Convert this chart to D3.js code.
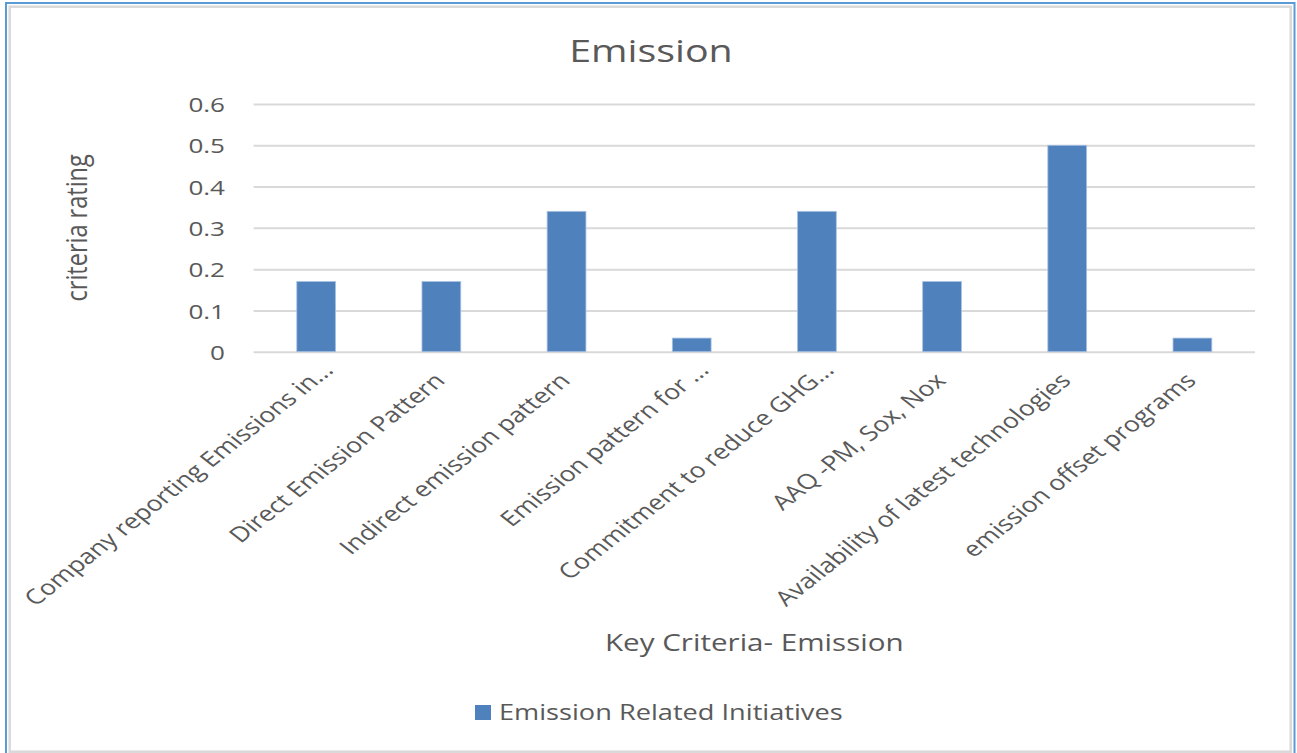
<!DOCTYPE html>
<html>
<head>
<meta charset="utf-8">
<script src="https://cdn.jsdelivr.net/npm/d3@7/dist/d3.min.js"></script>
<style>
  html, body { margin: 0; padding: 0; background: #fff; }
  svg { display: block; }
  text { font-family: "Open Sans", "Noto Sans", sans-serif; fill: #595959; }
</style>
</head>
<body>
<script>
// ---- data ----
const categories = [
  "Company reporting Emissions in...",
  "Direct Emission Pattern",
  "Indirect emission pattern",
  "Emission pattern for ...",
  "Commitment to reduce GHG...",
  "AAQ -PM, Sox, Nox",
  "Availability of latest technologies",
  "emission offset programs"
];
const values = [0.17, 0.17, 0.34, 0.033, 0.34, 0.17, 0.5, 0.033];
const yTicks = [0, 0.1, 0.2, 0.3, 0.4, 0.5, 0.6];
const seriesName = "Emission Related Initiatives";
const chartTitle = "Emission";
const xTitle = "Key Criteria- Emission";
const yTitle = "criteria rating";

// ---- layout ----
const W = 1297, H = 753;
const SX = 1.27; // horizontal text stretch seen in the reference
const plot = { left: 253.6, right: 1255, top: 104, bottom: 351.7 };
const barColor = "#4f81bd";
const gridColor = "#d9d9d9";

const svg = d3.select("body").append("svg").attr("width", W).attr("height", H);

// frames
svg.append("rect").attr("x", 6).attr("y", 3).attr("width", 1288.5).attr("height", 760)
  .attr("fill", "#fff").attr("stroke", "#5b9bd5").attr("stroke-width", 2);
svg.append("rect").attr("x", 9.7).attr("y", 6.7).attr("width", 1281).attr("height", 745)
  .attr("fill", "#fff").attr("stroke", "#d9d9d9").attr("stroke-width", 2.5);

const x = d3.scaleBand().domain(categories).range([plot.left, plot.right])
  .paddingInner(0.69).paddingOuter(0.345);
const y = d3.scaleLinear().domain([0, 0.6]).range([plot.bottom, plot.top]);

// gridlines + y axis labels
const yAxis = d3.axisLeft(y).tickValues(yTicks).tickSize(-(plot.right - plot.left))
  .tickFormat(d => d3.format("")(+d.toFixed(1)));
const gy = svg.append("g").attr("transform", `translate(${plot.left},0)`).call(yAxis);
gy.select(".domain").remove();
gy.selectAll(".tick line").attr("stroke", gridColor).attr("stroke-width", 2);
gy.selectAll(".tick text").remove();
gy.selectAll(".tick").append("g")
  .attr("transform", `translate(${225 - plot.left},7.7) scale(${SX},1)`)
  .append("text")
  .attr("text-anchor", "end")
  .attr("font-size", 20.5)
  .text(d => d3.format("")(+d.toFixed(1)));

// bars
svg.append("g").selectAll("rect").data(values).join("rect")
  .attr("x", (d, i) => x(categories[i]))
  .attr("width", x.bandwidth())
  .attr("y", d => y(d))
  .attr("height", d => y(0) - y(d))
  .attr("fill", barColor)
  .attr("stroke", "#a9c2e3")
  .attr("stroke-width", 0.8);

// x axis (category labels)
const xAxis = d3.axisBottom(x).tickSize(0).tickFormat("");
const gx = svg.append("g").attr("transform", `translate(0,${plot.bottom})`).call(xAxis);
gx.select(".domain").remove();
gx.selectAll(".tick").append("g")
  .attr("transform", d => `translate(5,${382 - plot.bottom}) scale(${SX},1) rotate(-45)`)
  .append("text")
  .attr("text-anchor", "end")
  .attr("font-size", 21)
  .attr("dx", d => d.endsWith("...") ? 15 : 0)
  .text(d => d);

// title
svg.append("g").attr("transform", `translate(651,62) scale(${SX},1)`)
  .append("text").attr("text-anchor", "middle").attr("font-size", 31).text(chartTitle);

// axis titles
svg.append("g").attr("transform", `translate(${(plot.left + plot.right) / 2},651) scale(${SX},1)`)
  .append("text").attr("text-anchor", "middle").attr("font-size", 23.3).text(xTitle);
svg.append("g").attr("transform", `translate(87,${(plot.top + plot.bottom) / 2}) scale(${SX},1) rotate(-90)`)
  .append("text").attr("text-anchor", "middle").attr("font-size", 23.5).text(yTitle);

// legend
const lg = svg.append("g").attr("transform", "translate(475,705)");
lg.append("rect").attr("width", 16).attr("height", 15).attr("fill", barColor);
lg.append("g").attr("transform", `translate(24,15) scale(${SX},1)`)
  .append("text").attr("font-size", 21.4).text(seriesName);
</script>
</body>
</html>
